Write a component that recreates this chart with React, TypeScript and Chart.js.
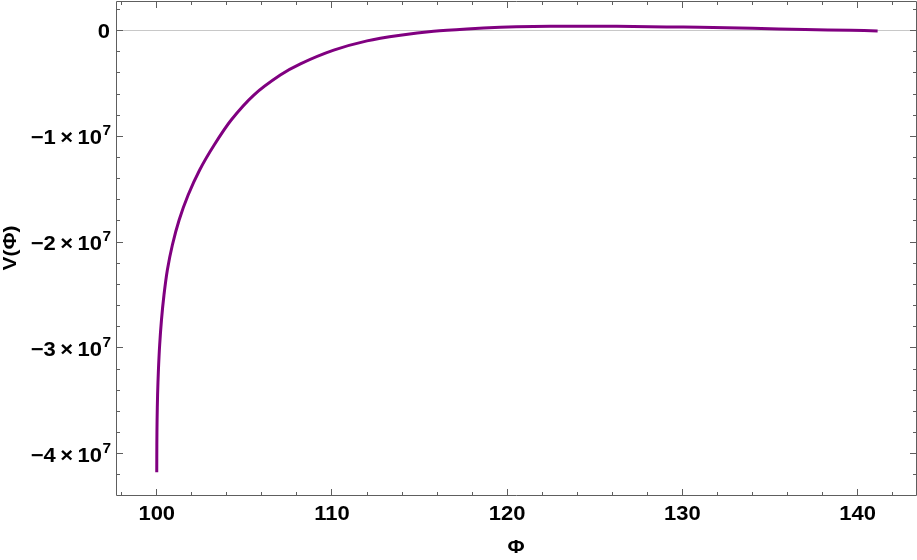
import React, { useEffect, useRef } from "react";
import { Chart, registerables } from "chart.js";

Chart.register(...registerables);

// ---- data (V in units of 10^7) ----
const phiValues = [
  100.0, 100.005, 100.019, 100.047, 100.095, 100.166, 100.269, 100.412, 100.605, 100.891,
  101.277, 101.791, 102.448, 103.277, 104.248, 105.54, 107.05, 108.2, 110.1, 112.0,
  113.9, 115.8, 117.7, 119.6, 121.5, 123.4, 125.3, 127.2, 129.1, 131.0,
  134.0, 137.0, 139.6, 141.14,
];
const potentialValues = [
  -4.175, -3.917, -3.681, -3.445, -3.209, -2.972, -2.736, -2.5, -2.264, -2.027,
  -1.791, -1.555, -1.318, -1.082, -0.846, -0.61, -0.421, -0.315, -0.186, -0.098,
  -0.045, -0.007, 0.015, 0.03, 0.038, 0.04, 0.04, 0.038, 0.034, 0.03,
  0.021, 0.01, 0.002, -0.004,
];

const xMajorTicks = [100, 110, 120, 130, 140];
const xMinorTicks = [98, 102, 104, 106, 108, 112, 114, 116, 118, 122, 124, 126, 128, 132, 134, 136, 138, 142];
const xTickLabels = ["100", "110", "120", "130", "140"];

const yMajorTicks = [0, -1, -2, -3, -4];
const yMinorTicks = [
  0.2, -0.2, -0.4, -0.6, -0.8, -1.2, -1.4, -1.6, -1.8, -2.2, -2.4, -2.6, -2.8,
  -3.2, -3.4, -3.6, -3.8, -4.2,
];
const yTickMantissas = ["0", "\u22121", "\u22122", "\u22123", "\u22124"];
const yExponent = "7";
const SCALE = 1e7;

const xTitle = "\u03A6";
const yTitle = "V(\u03A6)";

const X_MIN = 97.674;
const X_MAX = 143.33;
const Y_MAX = 0.279e7;
const Y_MIN = -4.39e7;

const FRAME_COLOR = "#5e5e5e";
const ZERO_COLOR = "#c8c8c8";
const CURVE_COLOR = "#800080";
const FONT_FAMILY = "'Liberation Sans', Arial, sans-serif";

function drawStretched(
  ctx: CanvasRenderingContext2D,
  text: string,
  x: number,
  y: number,
  align: "left" | "right" | "center",
  sx: number
) {
  const w = ctx.measureText(text).width * sx;
  let left = x;
  if (align === "right") left = x - w;
  else if (align === "center") left = x - w / 2;
  ctx.save();
  ctx.translate(left, y);
  ctx.scale(sx, 1);
  ctx.textAlign = "left";
  ctx.fillText(text, 0, 0);
  ctx.restore();
  return w;
}

const framePlugin = {
  id: "mmaFrame",
  beforeDatasetsDraw(chart: any) {
    const { ctx, chartArea: a, scales } = chart;
    const y0 = Math.round(scales.y.getPixelForValue(0) - 0.5) + 0.5;
    ctx.save();
    ctx.strokeStyle = ZERO_COLOR;
    ctx.lineWidth = 1;
    ctx.beginPath();
    ctx.moveTo(a.left, y0);
    ctx.lineTo(a.right, y0);
    ctx.stroke();
    ctx.restore();
  },
  afterDatasetsDraw(chart: any) {
    const { ctx, chartArea: a, scales } = chart;
    const xs = scales.x;
    const ys = scales.y;
    const L = a.left + 0.5;
    const R = a.right + 0.5;
    const T = a.top + 0.5;
    const B = a.bottom + 0.5;
    ctx.save();
    ctx.strokeStyle = FRAME_COLOR;
    ctx.lineWidth = 1;
    ctx.beginPath();
    ctx.moveTo(L, T);
    ctx.lineTo(R, T);
    ctx.lineTo(R, B);
    ctx.lineTo(L, B);
    ctx.closePath();
    ctx.stroke();

    const major = 6.5;
    const minor = 3.5;
    ctx.beginPath();
    const xt = (v: number, len: number) => {
      const px = Math.round(xs.getPixelForValue(v) - 0.5) + 0.5;
      ctx.moveTo(px, B);
      ctx.lineTo(px, B - len);
      ctx.moveTo(px, T);
      ctx.lineTo(px, T + len);
    };
    const yt = (v: number, len: number) => {
      const py = Math.round(ys.getPixelForValue(v * SCALE) - 0.5) + 0.5;
      ctx.moveTo(L, py);
      ctx.lineTo(L + len, py);
      ctx.moveTo(R, py);
      ctx.lineTo(R - len, py);
    };
    xMajorTicks.forEach((v) => xt(v, major));
    xMinorTicks.forEach((v) => xt(v, minor));
    yMajorTicks.forEach((v) => yt(v, major));
    yMinorTicks.forEach((v) => yt(v, minor));
    ctx.stroke();

    // labels
    ctx.fillStyle = "#000000";
    ctx.textBaseline = "alphabetic";
    const sx = 1.1;
    ctx.font = `bold 20px ${FONT_FAMILY}`;
    xMajorTicks.forEach((v, i) => {
      const px = xs.getPixelForValue(v);
      drawStretched(ctx, xTickLabels[i], px, a.bottom + 24.5, "center", sx);
    });

    yMajorTicks.forEach((v, i) => {
      const py = ys.getPixelForValue(v * SCALE);
      const right = a.left - 5;
      if (v === 0) {
        ctx.font = `bold 20px ${FONT_FAMILY}`;
        drawStretched(ctx, yTickMantissas[i], right - 1, py + 7, "right", sx);
      } else {
        ctx.font = `bold 14px ${FONT_FAMILY}`;
        const supW = drawStretched(ctx, yExponent, right, py - 1, "right", sx);
        ctx.font = `bold 20px ${FONT_FAMILY}`;
        drawStretched(
          ctx,
          yTickMantissas[i] + "\u2009\u00D7\u200910",
          right - supW - 0.5,
          py + 8,
          "right",
          sx
        );
      }
    });

    // titles
    ctx.font = `bold 19px ${FONT_FAMILY}`;
    drawStretched(ctx, xTitle, (a.left + a.right) / 2, 553, "center", sx);
    ctx.save();
    ctx.translate(16, (a.top + a.bottom) / 2);
    ctx.rotate(-Math.PI / 2);
    drawStretched(ctx, yTitle, 0, 0, "center", sx);
    ctx.restore();

    ctx.restore();
  },
};

export default function App() {
  const canvasRef = useRef<HTMLCanvasElement | null>(null);

  useEffect(() => {
    const canvas = canvasRef.current;
    if (!canvas) return;
    const points = phiValues.map((p, i) => ({ x: p, y: potentialValues[i] * SCALE }));
    const chart = new Chart(canvas, {
      type: "line",
      data: {
        datasets: [
          {
            data: points,
            borderColor: CURVE_COLOR,
            borderWidth: 3,
            pointRadius: 0,
            fill: false,
            tension: 0.3,
            borderJoinStyle: "round",
            borderCapStyle: "butt",
          },
        ],
      },
      options: {
        animation: false,
        responsive: false,
        devicePixelRatio: 1,
        layout: { padding: { left: 0, right: 1, top: 1, bottom: 0 } },
        plugins: { legend: { display: false }, tooltip: { enabled: false } },
        events: [],
        scales: {
          x: {
            type: "linear",
            min: X_MIN,
            max: X_MAX,
            grid: { display: false, drawTicks: false },
            border: { display: false },
            ticks: { display: false },
            afterFit: (s: any) => {
              s.height = 65;
            },
          },
          y: {
            type: "linear",
            min: Y_MIN,
            max: Y_MAX,
            grid: { display: false, drawTicks: false },
            border: { display: false },
            ticks: { display: false },
            afterFit: (s: any) => {
              s.width = 116;
            },
          },
        },
      },
      plugins: [framePlugin],
    });
    return () => chart.destroy();
  }, []);

  return (
    <div style={{ position: "absolute", left: 0, top: 0, width: 917, height: 560, background: "#fff" }}>
      <canvas ref={canvasRef} width={917} height={560} style={{ width: 917, height: 560, display: "block" }} />
    </div>
  );
}
